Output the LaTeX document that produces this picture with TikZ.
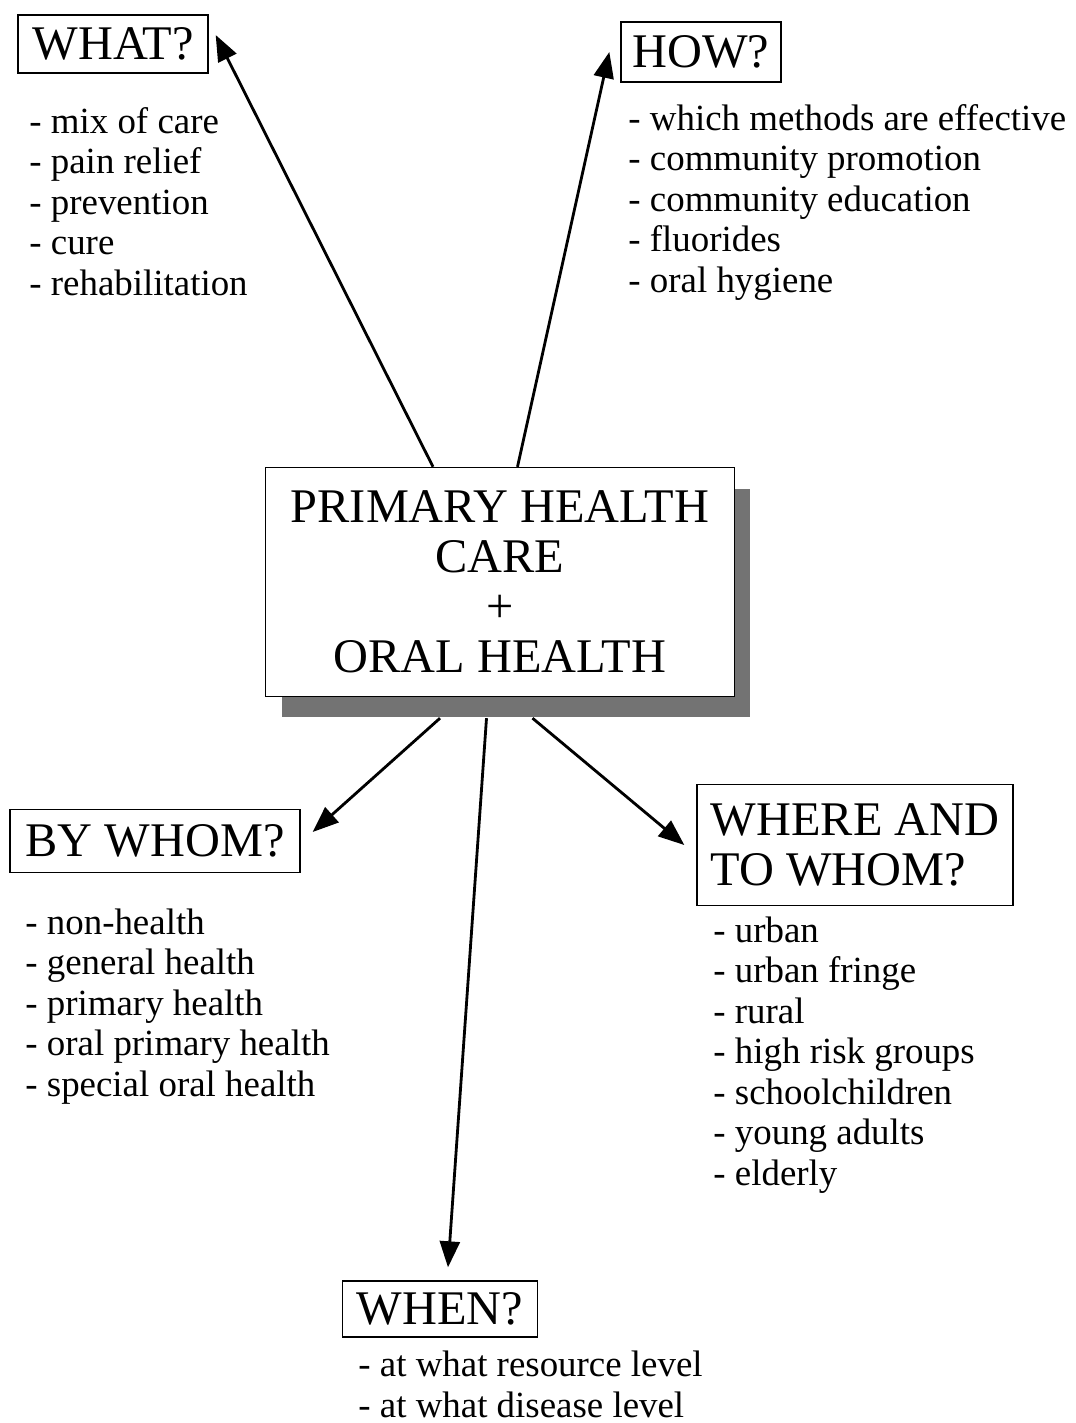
\documentclass[tikz,border=0pt]{standalone}
\usepackage{fontspec}
\setmainfont{Liberation Serif}
\usetikzlibrary{arrows.meta,shadows}

\begin{document}
\begin{tikzpicture}[x=0.02cm,y=-0.02cm,
  -{Triangle[length=0.52cm,width=0.4cm]},line width=1.6pt,
  qbox/.style={draw,line width=0.8pt,inner sep=0pt,fill=white,
    font=\fontsize{27.5}{28.5}\selectfont},
  qlist/.style={align=left,anchor=base west,inner sep=0pt,
    font=\fontsize{21}{23}\selectfont}]

  \useasboundingbox (0,0) rectangle (1075,1423);

  % question boxes
  \node[qbox,minimum width=3.8cm,minimum height=1.16cm] (what) at (113,44) {WHAT?};
  \node[qbox,minimum width=3.2cm,minimum height=1.2cm] (how) at (701,52) {HOW?};
  \node[qbox,minimum width=9.38cm,minimum height=4.58cm,align=center,
    drop shadow={shadow xshift=0.32cm,shadow yshift=-0.42cm,fill=black!55,opacity=1}]
    (phc) at (500,582) {PRIMARY HEALTH\\CARE\\+\\ORAL HEALTH};
  \node[qbox,minimum width=5.8cm,minimum height=1.26cm] (bywhom) at (155,841) {BY WHOM?};
  \node[qbox,minimum width=6.32cm,minimum height=2.42cm,align=left] (where) at (855,845) {WHERE AND\\TO WHOM?};
  \node[qbox,minimum width=3.9cm,minimum height=1.12cm] (when) at (440,1309) {WHEN?};

  % lists (placed at the baseline of their last line)
  \node[qlist] (whatlist) at (28,295) {- mix of care\\- pain relief\\- prevention\\- cure\\- rehabilitation};
  \node[qlist] (howlist) at (627,292) {- which methods are effective\\- community promotion\\- community education\\- fluorides\\- oral hygiene};
  \node[qlist] (bywhomlist) at (24,1096) {- non-health\\- general health\\- primary health\\- oral primary health\\- special oral health};
  \node[qlist] (wherelist) at (712,1185) {- urban\\- urban fringe\\- rural\\- high risk groups\\- schoolchildren\\- young adults\\- elderly};
  \node[qlist] (whenlist) at (357,1417) {- at what resource level\\- at what disease level};

  % arrows
  \draw ([xshift=-1.34cm]phc.north) -- ([xshift=0.14cm,yshift=0.18cm]what.east);
  \draw ([xshift=0.35cm]phc.north) -- ([xshift=-0.22cm]how.west);
  \draw ([xshift=-1.2cm,yshift=-0.42cm]phc.south) -- ([xshift=0.24cm,yshift=0.18cm]bywhom.east);
  \draw ([xshift=-0.27cm,yshift=-0.42cm]phc.south) -- ([xshift=0.16cm,yshift=0.26cm]when.north);
  \draw ([xshift=0.65cm,yshift=-0.42cm]phc.south) -- ([xshift=-0.24cm]where.west);
\end{tikzpicture}
\end{document}
